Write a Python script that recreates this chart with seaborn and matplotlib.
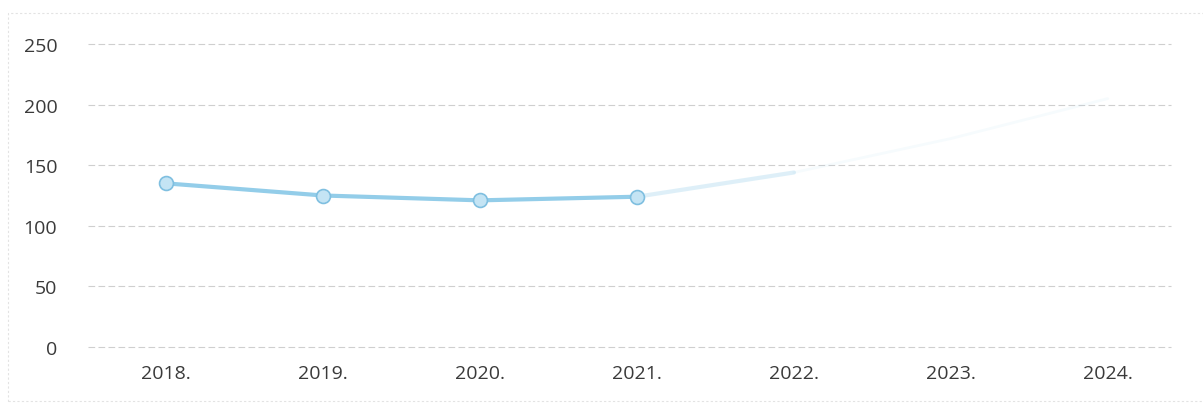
import numpy as np
import pandas as pd
import seaborn as sb
import matplotlib.pyplot as plt

# values (the 2022-2024 part is very faded)
years = ["2018.", "2019.", "2020.", "2021.", "2022.", "2023.", "2024."]
values = [135, 125, 121, 124, 144, 172, 205]
yticks = [0, 50, 100, 150, 200, 250]

df = pd.DataFrame({"year": years, "value": values})
df["pos"] = range(len(years))

sb.set_style("white")
plt.rcParams['font.family'] = ['Open Sans', 'DejaVu Sans']

fig = plt.figure(figsize=(12.03, 4.06), dpi=100)
ax = fig.add_axes([0.073, 0.143, 0.9, 0.746])

# light dashed grid like the scanned original
for t in yticks:
    ax.axhline(t, color="#cfcfcf", lw=0.8, ls=(0, (6, 3)), zorder=0, clip_on=False)

# visible part
solid = df.iloc[:4]
sb.lineplot(data=solid, x="pos", y="value", ax=ax, color="#93cde9", lw=3,
            marker="o", markersize=10, markerfacecolor="#c4e4f4",
            markeredgecolor="#7fbfe0", markeredgewidth=1.2, zorder=3)
# faded tail
tail = df.iloc[3:5]
sb.lineplot(data=tail, x="pos", y="value", ax=ax, color="#93cde9", lw=3,
            alpha=0.3, zorder=2)
tail2 = df.iloc[4:]
sb.lineplot(data=tail2, x="pos", y="value", ax=ax, color="#93cde9", lw=2,
            alpha=0.08, zorder=2)

ax.set_xlim(-0.5, 6.4)
ax.set_ylim(0, 250)
ax.set_xticks(df["pos"])
ax.set_xticklabels(years)
ax.set_yticks(yticks)
ax.set_yticklabels([str(t) for t in yticks])
ax.tick_params(axis="both", length=0, labelsize=14, colors="#3a3a3a")
ax.tick_params(axis="x", pad=12)
ax.tick_params(axis="y", pad=22)
ax.set_xlabel("")
ax.set_ylabel("")
for s in ax.spines.values():
    s.set_visible(False)

# faint frame of the scanned chart area
fig.patches.append(plt.Rectangle((0.007, 0.01), 1.2, 0.955, transform=fig.transFigure,
                                 fill=False, ec="#e3e3e3", lw=0.8, ls=(0, (2, 2))))

fig.savefig("out.png", dpi=100)
